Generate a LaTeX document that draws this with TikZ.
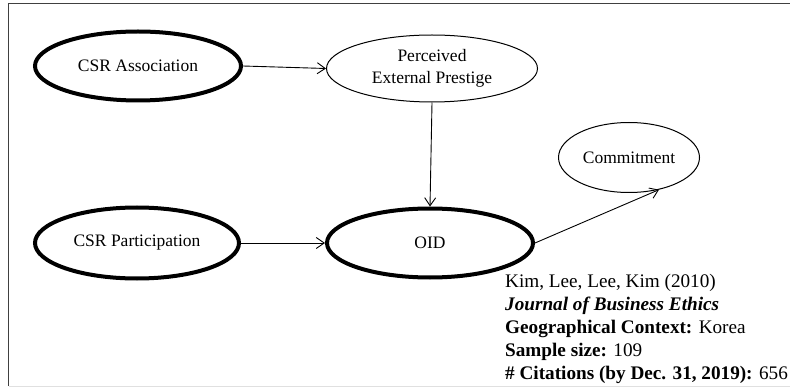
\documentclass[tikz,border=0pt]{standalone}
\usepackage{fontspec}
\setmainfont{Liberation Serif}
\usetikzlibrary{shapes.geometric,arrows.meta}
\begin{document}
\begin{tikzpicture}[x=1pt,y=-1pt,
  construct/.style={ellipse,draw=black,inner sep=0pt,align=center,
    font=\fontsize{17.5}{22}\selectfont},
  core/.style={construct,line width=4pt},
  plain/.style={construct,line width=1pt},
  link/.style={-{Straight Barb[length=8pt,width=11pt]},line width=0.9pt},
  info/.style={anchor=base west,inner sep=0pt,font=\fontsize{19.2}{23}\selectfont}]
\useasboundingbox (0,0) rectangle (791,387);

% frame and the foot of the heading above it
\begin{scope}
  \clip (0,0) rectangle (791,387);
  \node[anchor=base west,inner sep=0pt,font=\fontsize{30}{30}\selectfont] (head) at (321,-6.5) {g};
\end{scope}
\draw[black!75,line width=1pt] (8.5,386) -- (8.5,4) -- (790,4);
\draw[black!12,line width=1pt] (8.5,386.5) -- (790,386.5);

% constructs
\node[core,minimum width=206pt,minimum height=69pt] (assoc) at (138,66) {CSR Association};
\node[plain,minimum width=211pt,minimum height=67pt] (pep) at (432,68.5) {Perceived\\External Prestige};
\node[core,minimum width=204pt,minimum height=71pt] (part) at (137,243) {CSR Participation};
\node[core,minimum width=206pt,minimum height=69pt] (oid) at (430,243) {OID};
\node[plain,minimum width=141pt,minimum height=70pt] (com) at (629,157.5) {Commitment};

% paths
\draw[link] (assoc.east) -- (pep.west);
\draw[link] (pep.south) -- (oid.north);
\draw[link] (part.east) -- (oid.west);
\draw[link] (oid.east) -- (com.-47);

% study details
\node[info] (ref)   at (505,287) {Kim, Lee, Lee, Kim (2010)};
\node[info] (jour)  at (505,310) {\textbf{\textit{Journal of Business Ethics}}};
\node[info] (geo)   at (505,333) {\textbf{Geographical Context:} Korea};
\node[info] (size)  at (505,356) {\textbf{Sample size:} 109};
\node[info] (cites) at (505,379) {\textbf{\# Citations (by Dec. 31, 2019):} 656};
\end{tikzpicture}
\end{document}
